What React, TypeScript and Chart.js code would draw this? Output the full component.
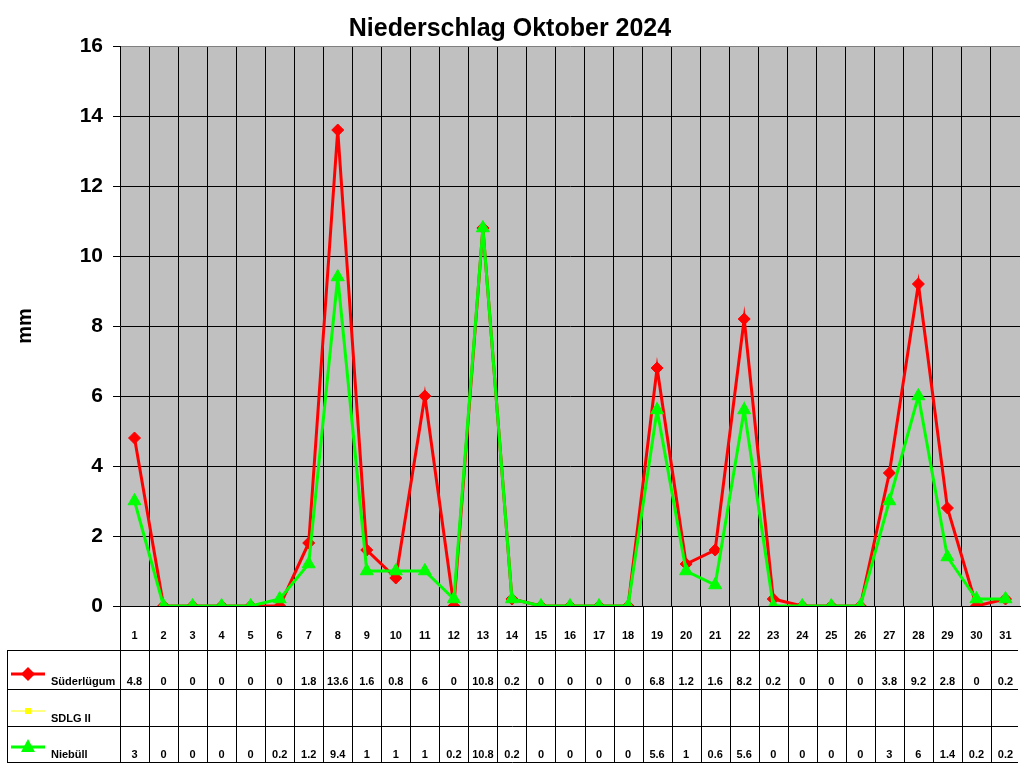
import { useEffect, useRef } from 'react';
import { Chart, registerables } from 'chart.js';

Chart.register(...registerables);

const days = [
  '1', '2', '3', '4', '5', '6', '7', '8', '9', '10', '11', '12', '13', '14', '15', '16',
  '17', '18', '19', '20', '21', '22', '23', '24', '25', '26', '27', '28', '29', '30', '31'
];

// mm per day
const suederluegum = [
  4.8, 0, 0, 0, 0, 0, 1.8, 13.6, 1.6, 0.8, 6, 0, 10.8, 0.2, 0, 0,
  0, 0, 6.8, 1.2, 1.6, 8.2, 0.2, 0, 0, 0, 3.8, 9.2, 2.8, 0, 0.2
];
const sdlgII: (number | null)[] = [];
const niebuell = [
  3, 0, 0, 0, 0, 0.2, 1.2, 9.4, 1, 1, 1, 0.2, 10.8, 0.2, 0, 0,
  0, 0, 5.6, 1, 0.6, 5.6, 0, 0, 0, 0, 3, 6, 1.4, 0.2, 0.2
];

const yTicks = [0, 2, 4, 6, 8, 10, 12, 14, 16];

const FONT = "'Liberation Sans', Arial, sans-serif";

// rows of the data table under the plot: [bottom of row, dataset index]
const TABLE_ROWS = [
  { bottom: 689, ds: 0 },
  { bottom: 726, ds: 1 },
  { bottom: 762, ds: 2 }
];

const plotBackground = {
  id: 'plotBackground',
  beforeDraw(chart: Chart) {
    const { ctx, chartArea } = chart;
    ctx.save();
    ctx.fillStyle = '#c0c0c0';
    ctx.fillRect(chartArea.left, chartArea.top, chartArea.right - chartArea.left, chartArea.bottom - chartArea.top);
    ctx.restore();
  }
};

const dataTablePlugin = {
  id: 'dataTable',
  afterDraw(chart: Chart) {
    const { ctx, chartArea } = chart;
    const x = chart.scales.x;
    const step = x.getPixelForValue(1) - x.getPixelForValue(0);
    const top = chartArea.bottom;
    const tableLeft = 7;
    const tableRight = chartArea.right - 2;
    const headBottom = 650;
    const last = TABLE_ROWS[TABLE_ROWS.length - 1].bottom;

    ctx.save();
    ctx.strokeStyle = '#000';
    ctx.lineWidth = 1;
    ctx.beginPath();
    // column lines
    for (let i = 0; i < days.length; i++) {
      const px = Math.round(x.getPixelForValue(i) - step / 2) + 0.5;
      ctx.moveTo(px, top);
      ctx.lineTo(px, last + 0.5);
    }
    // label column
    ctx.moveTo(tableLeft + 0.5, headBottom);
    ctx.lineTo(tableLeft + 0.5, last + 0.5);
    // row lines
    [headBottom, ...TABLE_ROWS.map((r) => r.bottom)].forEach((yy) => {
      ctx.moveTo(tableLeft, yy + 0.5);
      ctx.lineTo(tableRight, yy + 0.5);
    });
    ctx.stroke();

    ctx.fillStyle = '#000';
    ctx.textBaseline = 'alphabetic';
    TABLE_ROWS.forEach((row) => {
      const ds: any = chart.data.datasets[row.ds];
      const base = row.bottom - 4;
      const keyY = base - 11;

      // legend key
      ctx.strokeStyle = ds.borderColor;
      ctx.lineWidth = ds.borderWidth;
      ctx.beginPath();
      ctx.moveTo(11, keyY);
      ctx.lineTo(45, keyY);
      ctx.stroke();
      ctx.fillStyle = ds.backgroundColor;
      ctx.beginPath();
      if (ds.pointStyle === 'rectRot') {
        ctx.moveTo(28, keyY - 7);
        ctx.lineTo(35, keyY);
        ctx.lineTo(28, keyY + 7);
        ctx.lineTo(21, keyY);
      } else if (ds.pointStyle === 'triangle') {
        ctx.moveTo(28, keyY - 8);
        ctx.lineTo(35, keyY + 5);
        ctx.lineTo(21, keyY + 5);
      } else {
        ctx.rect(25, keyY - 3, 6, 6);
      }
      ctx.closePath();
      ctx.fill();

      ctx.fillStyle = '#000';
      ctx.font = `bold 11px ${FONT}`;
      ctx.textAlign = 'left';
      ctx.fillText(ds.label, 51, base);

      ctx.textAlign = 'center';
      (ds.data as (number | null)[]).forEach((v, i) => {
        if (v === null || v === undefined) return;
        ctx.fillText(String(v), x.getPixelForValue(i), base);
      });
    });
    ctx.restore();
  }
};

export default function App() {
  const canvasRef = useRef<HTMLCanvasElement | null>(null);
  const chartRef = useRef<Chart | null>(null);

  useEffect(() => {
    if (!canvasRef.current) return;
    if (chartRef.current) chartRef.current.destroy();

    chartRef.current = new Chart(canvasRef.current, {
      type: 'line',
      data: {
        labels: days,
        datasets: [
          {
            label: 'Süderlügum',
            data: suederluegum,
            borderColor: '#ff0000',
            backgroundColor: '#ff0000',
            borderWidth: 3,
            pointStyle: 'rectRot',
            pointRadius: 6,
            pointBorderWidth: 1,
            tension: 0,
            order: 2
          },
          {
            label: 'SDLG II',
            data: sdlgII,
            borderColor: '#ffff00',
            backgroundColor: '#ffff00',
            borderWidth: 1,
            pointStyle: 'rect',
            pointRadius: 4,
            order: 1
          },
          {
            label: 'Niebüll',
            data: niebuell,
            borderColor: '#00ff00',
            backgroundColor: '#00ff00',
            borderWidth: 3,
            pointStyle: 'triangle',
            pointRadius: 7.5,
            pointBorderWidth: 1,
            tension: 0,
            order: 0
          }
        ]
      },
      options: {
        responsive: false,
        animation: false,
        layout: { autoPadding: false, padding: { left: 0, right: 4, top: 0, bottom: 0 } },
        scales: {
          x: {
            type: 'category',
            offset: true,
            afterFit: (scale) => {
              scale.height = 162;
            },
            grid: {
              offset: true,
              drawTicks: true,
              tickLength: 23,
              tickColor: 'rgba(0,0,0,0)',
              // no line on the left edge (y axis) or the right edge
              color: (c: any) => (c.type === 'tick' && c.index > 0 ? '#000' : 'rgba(0,0,0,0)'),
              lineWidth: 1
            },
            border: { display: true, color: '#000', width: 1 },
            ticks: {
              color: '#000',
              font: { family: FONT, size: 11, weight: 'bold' },
              padding: 0,
              maxRotation: 0,
              autoSkip: false
            }
          },
          y: {
            min: 0,
            max: 16,
            afterFit: (scale) => {
              scale.width = 120;
            },
            afterBuildTicks: (scale) => {
              scale.ticks = yTicks.map((v) => ({ value: v }));
            },
            grid: {
              color: (c: any) => (c.tick && c.tick.value === 16 ? '#808080' : '#000'),
              tickColor: '#000',
              tickLength: 7,
              lineWidth: 1
            },
            border: { display: true, color: '#000', width: 1 },
            ticks: {
              color: '#000',
              padding: 10,
              font: { family: FONT, size: 21, weight: 'bold' }
            },
            title: {
              display: true,
              text: 'mm',
              color: '#000',
              font: { family: FONT, size: 20, weight: 'bold' },
              padding: { top: 13, bottom: 0 }
            }
          }
        },
        plugins: {
          legend: { display: false },
          tooltip: { enabled: false },
          title: {
            display: true,
            text: 'Niederschlag Oktober 2024',
            color: '#000',
            font: { family: FONT, size: 25, weight: 'bold', lineHeight: 1.2 },
            padding: { top: 14, bottom: 2 }
          }
        }
      },
      plugins: [plotBackground, dataTablePlugin]
    });

    return () => {
      if (chartRef.current) {
        chartRef.current.destroy();
        chartRef.current = null;
      }
    };
  }, []);

  return (
    <div style={{ position: 'absolute', left: 0, top: 0, width: '1024px', height: '768px', background: '#fff' }}>
      <canvas ref={canvasRef} width={1024} height={768} aria-label="Niederschlag Oktober 2024" />
    </div>
  );
}
